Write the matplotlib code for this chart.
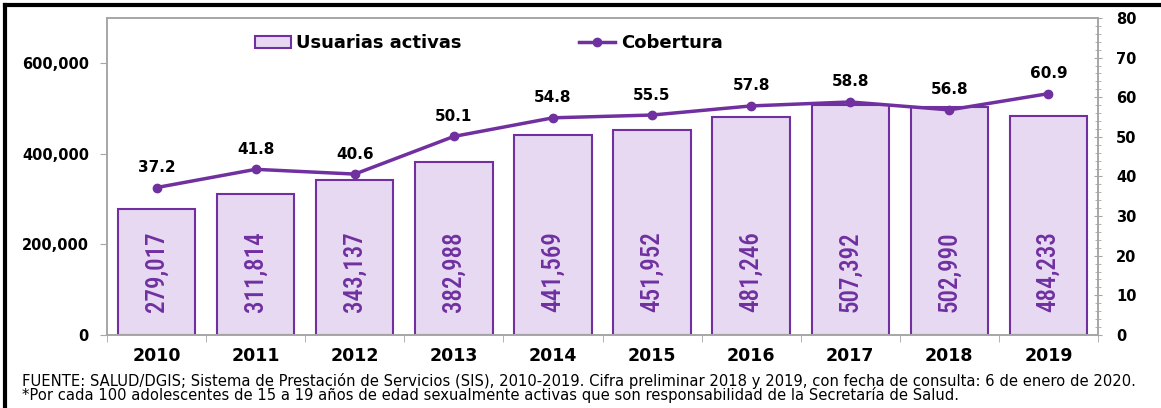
import matplotlib
matplotlib.use("Agg")
import matplotlib.pyplot as plt
from matplotlib.lines import Line2D
from matplotlib.ticker import FuncFormatter, MultipleLocator

years = ["2010", "2011", "2012", "2013", "2014", "2015", "2016", "2017", "2018", "2019"]
usuarias = [279017, 311814, 343137, 382988, 441569, 451952, 481246, 507392, 502990, 484233]
cobertura = [37.2, 41.8, 40.6, 50.1, 54.8, 55.5, 57.8, 58.8, 56.8, 60.9]

PURPLE = "#7030A0"
FILL = "#E6D9F1"
GREY = "#A6A6A6"
BOLD = dict(family="DejaVu Sans", weight="bold")

fig = plt.figure(figsize=(11.61, 4.08), dpi=100)
ax = fig.add_axes([0.0922, 0.179, 0.8535, 0.777])
ax2 = ax.twinx()

x = range(len(years))
bars = ax.bar(x, usuarias, width=0.78, color=FILL, edgecolor=PURPLE, lw=1.5,
              label="Usuarias activas", zorder=2)
for xi, v in zip(x, usuarias):
    ax.text(xi, 140000, f"{v:,}", rotation=90, ha="center", va="center",
            color=PURPLE, fontsize=18, fontstretch="condensed", fontweight="medium",
            family=["Roboto Condensed", "Noto Sans", "DejaVu Sans"], zorder=3)

ln, = ax2.plot(x, cobertura, "-o", color=PURPLE, lw=2.5, ms=6,
               label="Cobertura", zorder=4)
for xi, v in zip(x, cobertura):
    ax2.annotate(f"{v:.1f}", (xi, v), xytext=(0, 9), textcoords="offset points",
                 ha="center", va="bottom", fontsize=11, color="black", **BOLD)

ax.set_xlim(-0.5, len(years) - 0.5)
ax.set_ylim(0, 700000)
ax2.set_ylim(0, 80)
ax.set_yticks([0, 200000, 400000, 600000])
ax.yaxis.set_major_formatter(FuncFormatter(lambda v, p: f"{int(v):,}"))
ax2.yaxis.set_major_locator(MultipleLocator(10))
ax2.yaxis.set_minor_locator(MultipleLocator(2))

ax.set_xticks(list(x))
ax.set_xticklabels(years)
ax.set_xticks([i + 0.5 for i in range(-1, len(years))], minor=True)
ax.tick_params(axis="x", which="major", length=0, pad=9)
ax.tick_params(axis="x", which="minor", length=5, color=GREY, direction="out")
ax.tick_params(axis="y", length=5, color=GREY, pad=8)
ax2.tick_params(axis="y", which="major", length=6, color=GREY, direction="inout", pad=10)
ax2.tick_params(axis="y", which="minor", length=4, color=GREY, direction="inout")

for lab in ax.get_xticklabels():
    lab.set_fontsize(12.5); lab.set_fontweight("bold")
for lab in ax.get_yticklabels() + ax2.get_yticklabels():
    lab.set_fontsize(10.5); lab.set_fontweight("bold")

for a in (ax, ax2):
    for s in a.spines.values():
        s.set_color(GREY)
        s.set_linewidth(1.2)

ax.set_zorder(ax2.get_zorder() - 1)
ax2.patch.set_visible(False)
ax.patch.set_visible(True)

leg = ax2.legend([bars, ln], ["Usuarias activas", "Cobertura"], ncol=2,
                 loc="center", bbox_to_anchor=(0.385, 0.92), frameon=False,
                 prop=dict(family="DejaVu Sans", weight="bold", size=13),
                 handlelength=2.0, handletextpad=0.3, columnspacing=6.5)

fig.text(0.019, 0.067,
         "FUENTE: SALUD/DGIS; Sistema de Prestación de Servicios (SIS), 2010-2019. "
         "Cifra preliminar 2018 y 2019, con fecha de consulta: 6 de enero de 2020.",
         fontsize=10.6, family="DejaVu Sans", va="center")
fig.text(0.019, 0.031,
         "*Por cada 100 adolescentes de 15 a 19 años de edad sexualmente activas "
         "que son responsabilidad de la Secretaría de Salud.",
         fontsize=10.6, family="DejaVu Sans", va="center")

# black frame around the figure (left and top edges visible)
fig.add_artist(Line2D([0.0045, 0.0045], [0, 0.988], color="black", lw=3,
                      transform=fig.transFigure))
fig.add_artist(Line2D([0.0045, 1.0], [0.988, 0.988], color="black", lw=3,
                      transform=fig.transFigure))

fig.savefig("out.png", dpi=100)
